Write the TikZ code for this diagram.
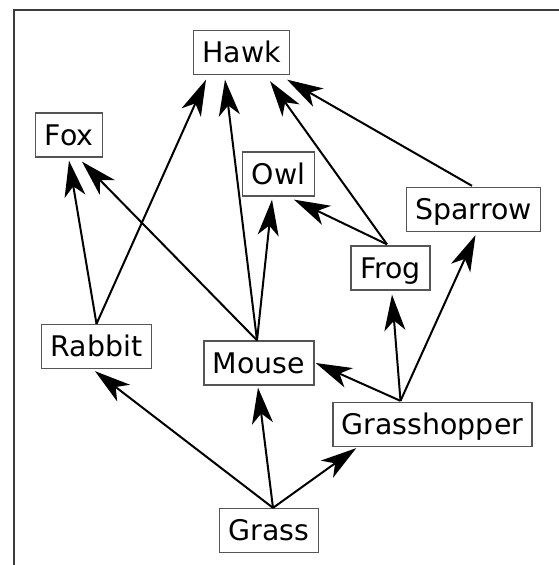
\documentclass[tikz,border=0pt]{standalone}
\usepackage{fontspec}
\setmainfont{DejaVu Sans}
\usetikzlibrary{arrows.meta,calc}
\definecolor{boxgray}{RGB}{85,85,85}
\definecolor{framegray}{RGB}{60,60,60}
\tikzset{
  animal/.style={draw=boxgray, line width=1.3pt, fill=white,
    font=\fontsize{28.4}{34}\selectfont,
    minimum height=44pt, inner xsep=9pt, inner ysep=0pt,
    text height=20pt, text depth=0pt},
  eats/.style={line width=2pt, black,
    -{Stealth[length=36pt, width=21pt, inset=10pt]}},
}
\begin{document}
\begin{tikzpicture}[x=1pt,y=-1pt]
  \useasboundingbox (0,0) rectangle (559,565);
  % partial frame: top and left edges
  \draw[framegray, line width=1.5pt] (14,565) -- (14,10) -- (559,10);

  % food web nodes
  \node[animal] (hawk)   at (241.5,52.5) {Hawk};
  \node[animal] (fox)    at (69,135)     {Fox};
  \node[animal] (owl)    at (278.5,174)  {Owl};
  \node[animal] (sparrow) at (473.5,209.5) {Sparrow};
  \node[animal] (frog)   at (390.5,268)  {Frog};
  \node[animal] (rabbit) at (96.5,346.5) {Rabbit};
  \node[animal] (mouse)  at (259,363)    {Mouse};
  \node[animal] (hopper) at (432.5,424.5) {Grasshopper};
  \node[animal] (grass)  at (269,530.5)  {Grass};

  % source points
  \coordinate (sGrass)  at ($(grass.north)+(4,0)$);
  \coordinate (sHopper) at ($(hopper.north)+(-32,-1)$);
  \coordinate (sMouse)  at ($(mouse.north)+(-2,0)$);
  \coordinate (sRabbit) at (rabbit.north);
  \coordinate (sFrog)   at ($(frog.north)+(-3.5,-1)$);
  \coordinate (sSparrow) at ($(sparrow.north)+(-1.5,-1)$);

  % who eats whom
  \draw[eats] (sGrass) -- ($(rabbit.south)+(-1.5,2)$);
  \draw[eats] (sGrass) -- ($(mouse.south)+(-1,2)$);
  \draw[eats] (sGrass) -- ($(hopper.south west)+(24,1)$);
  \draw[eats] (sHopper) -- ($(mouse.east)+(1,0)$);
  \draw[eats] (sHopper) -- ($(frog.south)+(1.5,4)$);
  \draw[eats] (sHopper) -- ($(sparrow.south)+(2,3)$);
  \draw[eats] (sMouse) -- ($(fox.south)+(13,4)$);
  \draw[eats] (sMouse) -- ($(owl.south)+(-6.5,3)$);
  \draw[eats] (sMouse) -- ($(hawk.south)+(-16.5,4.5)$);
  \draw[eats] (sRabbit) -- ($(fox.south)+(0,3)$);
  \draw[eats] (sRabbit) -- ($(hawk.south)+(-35.5,4.5)$);
  \draw[eats] (sFrog) -- ($(owl.south)+(15.5,3)$);
  \draw[eats] (sFrog) -- ($(hawk.south)+(28.5,6)$);
  \draw[eats] (sSparrow) -- ($(hawk.south)+(45.5,4.5)$);
\end{tikzpicture}
\end{document}
